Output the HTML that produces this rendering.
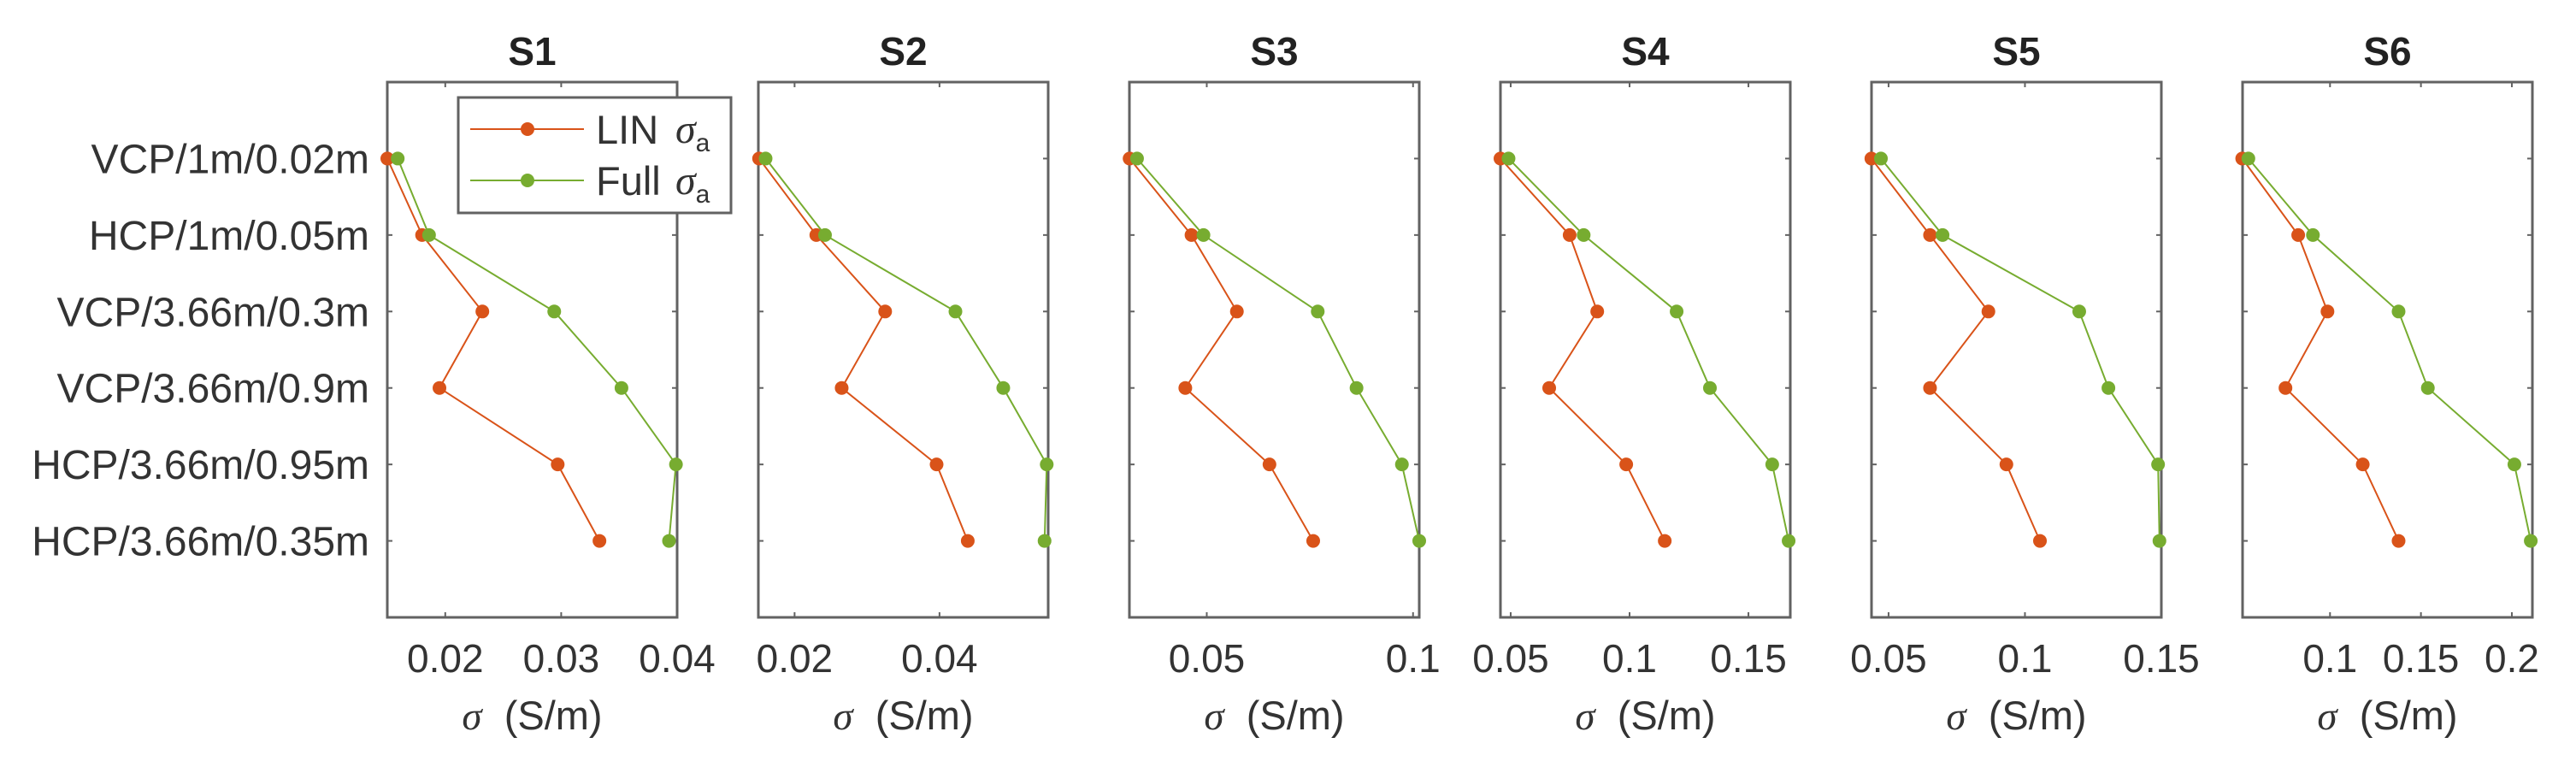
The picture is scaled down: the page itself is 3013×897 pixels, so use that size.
<!DOCTYPE html>
<html><head><meta charset="utf-8"><style>
html,body{margin:0;padding:0;background:#fff;}
svg{display:block;font-family:"Liberation Sans",sans-serif;}
text{white-space:pre;}
</style></head><body>
<svg id="chart" width="3013" height="897" viewBox="0 0 3013 897" xmlns="http://www.w3.org/2000/svg"></svg>
<script>
const categories = ["VCP/1m/0.02m","HCP/1m/0.05m","VCP/3.66m/0.3m","VCP/3.66m/0.9m","HCP/3.66m/0.95m","HCP/3.66m/0.35m"];
const panelTitles = ["S1","S2","S3","S4","S5","S6"];
const linS1 = [0.015,0.018,0.0232,0.0195,0.0297,0.0333];
const fullS1 = [0.0159,0.0186,0.0294,0.0352,0.0399,0.0393];
const linS2 = [0.0151,0.023,0.0325,0.0265,0.0396,0.0439];
const fullS2 = [0.016,0.0242,0.0422,0.0488,0.0548,0.0545];
const linS3 = [0.0313,0.0463,0.0573,0.0448,0.0652,0.0758];
const fullS3 = [0.0331,0.0492,0.0769,0.0863,0.0973,0.1015];
const linS4 = [0.0457,0.0748,0.0864,0.0662,0.0986,0.1148];
const fullS4 = [0.0491,0.0807,0.1198,0.1338,0.16,0.1669];
const linS5 = [0.0437,0.0652,0.0866,0.0652,0.0932,0.1055];
const fullS5 = [0.0472,0.0698,0.1199,0.1306,0.1488,0.1493];
const linS6 = [0.0517,0.0825,0.0986,0.0755,0.118,0.1377];
const fullS6 = [0.0551,0.0906,0.1377,0.1538,0.2014,0.2104];
const xMins = [0.015,0.015,0.03125,0.0457,0.04375,0.0519];
const xMaxs = [0.04,0.055,0.1015,0.1676,0.15,0.2113];
const xTicks1 = [0.02,0.03,0.04];
const xTicks2 = [0.02,0.04];
const xTicks3 = [0.05,0.1];
const xTicks4 = [0.05,0.1,0.15];
const xTicks5 = [0.05,0.1,0.15];
const xTicks6 = [0.1,0.15,0.2];

const linSeries=[linS1,linS2,linS3,linS4,linS5,linS6];
const fullSeries=[fullS1,fullS2,fullS3,fullS4,fullS5,fullS6];
const tickSets=[xTicks1,xTicks2,xTicks3,xTicks4,xTicks5,xTicks6];
const NS="http://www.w3.org/2000/svg";
const svg=document.getElementById('chart');
const ORANGE="#D95319", GREEN="#77AC30", AX="#626262", TXT="#333333";
const PW=339, TOP=96, BOT=722, X0=453, DX=434;
function mk(tag,attrs,parent){const e=document.createElementNS(NS,tag);for(const k in attrs)e.setAttribute(k,attrs[k]);(parent||svg).appendChild(e);return e;}
function yScale(i){return TOP+(i+1)*(BOT-TOP)/(categories.length+1);}
function fmt(v){return String(+v.toFixed(3));}

categories.forEach((c,i)=>{
  const t=mk('text',{x:432,y:yScale(i)+17,'text-anchor':'end','font-size':48,fill:TXT});
  
  
  t.textContent=c;
});

for(let p=0;p<6;p++){
  const L=X0+p*DX, R=L+PW;
  const xs=v=>L+(v-xMins[p])/(xMaxs[p]-xMins[p])*PW;
  const g=mk('g',{});
  
  
  const t=mk('text',{x:(L+R)/2,y:76,'text-anchor':'middle','font-size':46,'font-weight':'bold',fill:'#222'},g);
  
  
  t.textContent=panelTitles[p];
  const box=mk('rect',{x:L,y:TOP,width:PW,height:BOT-TOP,fill:'none',stroke:AX,'stroke-width':3},g);
  
  
  categories.forEach((c,i)=>{
    const y=yScale(i);
    mk('line',{x1:L,x2:L+6,y1:y,y2:y,stroke:AX,'stroke-width':2},g);
    mk('line',{x1:R-6,x2:R,y1:y,y2:y,stroke:AX,'stroke-width':2},g);
  });
  tickSets[p].forEach(v=>{
    const x=xs(v);
    mk('line',{x1:x,x2:x,y1:BOT,y2:BOT-6,stroke:AX,'stroke-width':2},g);
    mk('line',{x1:x,x2:x,y1:TOP,y2:TOP+6,stroke:AX,'stroke-width':2},g);
    const tl=mk('text',{x:x,y:786,'text-anchor':'middle','font-size':46,fill:TXT},g);
    
    
    tl.textContent=fmt(v);
  });
  const xl=mk('text',{x:(L+R)/2,y:853,'text-anchor':'middle','font-size':47,fill:TXT},g);
  
  
  xl.innerHTML='<tspan font-style="italic" font-family="Liberation Serif,serif">σ</tspan>  (S/m)';
  [[linSeries[p],ORANGE,'lin'],[fullSeries[p],GREEN,'full']].forEach(([arr,col,nm])=>{
    const pts=arr.map((v,i)=>xs(v).toFixed(1)+','+yScale(i).toFixed(1)).join(' ');
    const pl=mk('polyline',{points:pts,fill:'none',stroke:col,'stroke-width':2},g);
    
    
    arr.forEach((v,i)=>{
      const c=mk('circle',{cx:xs(v),cy:yScale(i),r:8,fill:col},g);
      
      
    });
  });
}

const lg=mk('g',{});


mk('rect',{x:536,y:114,width:319,height:135,fill:'#fff',stroke:AX,'stroke-width':3},lg);
[[ORANGE,'LIN',151],[GREEN,'Full',211]].forEach(([col,lab,y])=>{
  const e=mk('g',{},lg);
  
  
  mk('line',{x1:550,x2:683,y1:y,y2:y,stroke:col,'stroke-width':2},e);
  mk('circle',{cx:617,cy:y,r:8,fill:col},e);
  const t=mk('text',{x:697,y:y+17,'font-size':47,fill:TXT},e);
  t.textContent=lab;
  const s=mk('text',{x:790,y:y+16,'font-size':48,fill:TXT,'font-style':'italic','font-family':'Liberation Serif,serif'},e);
  s.innerHTML='σ<tspan font-size="30" dy="10" font-style="normal" font-family="Liberation Sans,sans-serif">a</tspan>';
});
</script>
</body></html>
